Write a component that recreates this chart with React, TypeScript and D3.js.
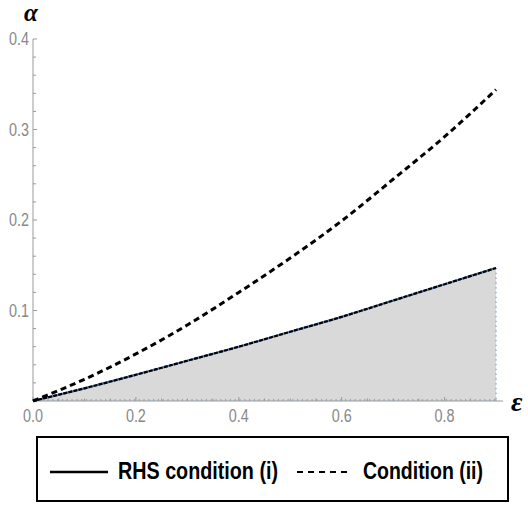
import React from "react";
import * as d3 from "d3";

const eps = [0, 0.1, 0.2, 0.3, 0.4, 0.5, 0.6, 0.7, 0.8, 0.9];
const rhsI = [0, 0.014, 0.029, 0.0445, 0.06, 0.0765, 0.093, 0.111, 0.129, 0.147];
const condII = [0, 0.024, 0.052, 0.084, 0.12, 0.158, 0.199, 0.245, 0.292, 0.344];
const xTicks = [0, 0.2, 0.4, 0.6, 0.8];
const yTicks = [0.1, 0.2, 0.3, 0.4];
const legendLabels = ["RHS condition (i)", "Condition (ii)"];

export default function App() {
  const x = d3.scaleLinear().domain([0, 0.9]).range([33, 496]);
  const y = d3.scaleLinear().domain([0, 0.4]).range([401, 39]);
  const xMinor = d3.range(0, 0.9001, 0.05);
  const yMinor = d3.range(0, 0.4001, 0.02);
  const pts1 = eps.map((e, i) => [e, rhsI[i]] as [number, number]);
  const pts2 = eps.map((e, i) => [e, condII[i]] as [number, number]);
  const line = d3
    .line<[number, number]>()
    .x((d) => x(d[0]))
    .y((d) => y(d[1]))
    .curve(d3.curveMonotoneX);
  const area = d3
    .area<[number, number]>()
    .x((d) => x(d[0]))
    .y0(y(0))
    .y1((d) => y(d[1]))
    .curve(d3.curveMonotoneX);
  const axisColor = "#9a9a9a";
  const labelColor = "#888888";
  const tickFont = "'Liberation Sans', Arial, sans-serif";
  const x0 = x(0);
  const y0 = y(0);
  const xEnd = x(0.9);
  return (
    <svg
      width={528}
      height={507}
      style={{ position: "absolute", left: 0, top: 0, background: "#fff" }}
    >
      {/* filled region */}
      <path d={area(pts1) || ""} fill="#d9d9d9" />
      <line x1={xEnd} x2={xEnd} y1={y(rhsI[rhsI.length - 1])} y2={y0} stroke="#7a9bd0" strokeWidth={1.3} strokeDasharray="1.3,3.5" />
      <line x1={x0} x2={xEnd} y1={y0 - 1} y2={y0 - 1} stroke="#7a9bd0" strokeWidth={1.3} strokeDasharray="1.3,3.5" />

      {/* axes */}
      <line x1={x0} x2={503} y1={y0} y2={y0} stroke={axisColor} strokeWidth={1} />
      <line x1={x0} x2={x0} y1={y(0.4)} y2={y0} stroke={axisColor} strokeWidth={1} />
      {xMinor.map((t, i) => {
        const major = Math.abs(t * 5 - Math.round(t * 5)) < 1e-6;
        return (
          <line key={"xm" + i} x1={x(t)} x2={x(t)} y1={y0} y2={y0 - (major ? 4 : 2.5)} stroke={axisColor} strokeWidth={1} />
        );
      })}
      {yMinor.map((t, i) => {
        const major = Math.abs(t * 10 - Math.round(t * 10)) < 1e-6;
        return (
          <line key={"ym" + i} x1={x0} x2={x0 + (major ? 4 : 3)} y1={y(t)} y2={y(t)} stroke={axisColor} strokeWidth={1} />
        );
      })}
      {xTicks.map((t) => (
        <text key={"xt" + t} x={x(t) - 10} y={422} textLength={20} lengthAdjust="spacingAndGlyphs" fontFamily={tickFont} fontSize={18} fill={labelColor}>
          {t.toFixed(1)}
        </text>
      ))}
      {yTicks.map((t) => (
        <text key={"yt" + t} x={9} y={y(t)} dy="0.35em" textLength={20} lengthAdjust="spacingAndGlyphs" fontFamily={tickFont} fontSize={18} fill={labelColor}>
          {t.toFixed(1)}
        </text>
      ))}

      {/* curves */}
      <path d={line(pts1) || ""} fill="none" stroke="#5b7fb8" strokeWidth={2.2} />
      <path d={line(pts1) || ""} fill="none" stroke="#000" strokeWidth={2.2} strokeDasharray="4,1.2" />
      <path d={line(pts2) || ""} fill="none" stroke="#000" strokeWidth={3} strokeDasharray="6,4" />

      {/* axis labels */}
      <text x={24} y={21} fontFamily="'Liberation Serif', serif" fontStyle="italic" fontWeight="bold" fontSize={25} fill="#000">
        α
      </text>
      <text x={511} y={411} fontFamily="'Liberation Serif', serif" fontStyle="italic" fontWeight="bold" fontSize={28} fill="#000">
        ε
      </text>

      {/* legend */}
      <rect x={37} y={437} width={471} height={64} fill="#fff" stroke="#000" strokeWidth={2} />
      <line x1={50} x2={108} y1={472} y2={472} stroke="#000" strokeWidth={2.5} />
      <text x={118} y={479} textLength={160} lengthAdjust="spacingAndGlyphs" fontFamily={tickFont} fontWeight="bold" fontSize={23} fill="#000">
        {legendLabels[0]}
      </text>
      <line x1={297} x2={349} y1={472} y2={472} stroke="#000" strokeWidth={2} strokeDasharray="6,5" />
      <text x={363} y={479} textLength={120} lengthAdjust="spacingAndGlyphs" fontFamily={tickFont} fontWeight="bold" fontSize={23} fill="#000">
        {legendLabels[1]}
      </text>
    </svg>
  );
}
